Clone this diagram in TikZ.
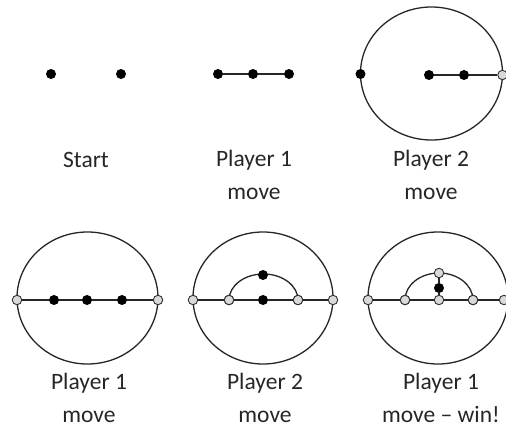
\documentclass[tikz,border=0pt]{standalone}
\usepackage{fontspec}
\setmainfont{Carlito}
\begin{document}
\begin{tikzpicture}[x=1pt,y=-1pt,
  bdot/.style={circle,fill=black,inner sep=0pt,minimum size=10pt},
  wdot/.style={circle,draw=black!80,line width=0.9pt,fill=black!15,inner sep=0pt,minimum size=9.5pt},
  ring/.style={draw=black!85,line width=1.3pt},
  edge/.style={draw=black!85,line width=1.6pt},
  lbl/.style={font=\fontsize{23.5}{33}\selectfont,align=center,text=black!85,inner sep=0pt}]
\useasboundingbox (0,0) rectangle (506,427);
% Start
\node[bdot] (s1) at (51,74) {};
\node[bdot] (s2) at (121,74) {};
\node[lbl] (ls) at (86,160) {Start};
% Player 1 move (top)
\node[bdot] (a1) at (218,74) {};
\node[bdot] (a2) at (253,74) {};
\node[bdot] (a3) at (289,74) {};
\draw[edge] (a1) -- (a2) -- (a3);
\node[lbl] (la) at (254,175) {Player 1\\move};
% Player 2 move (top)
\coordinate (bc) at (431.5,73.5);
\draw[ring] (bc) ellipse [x radius=71,y radius=66.5];
\node[bdot] (b0) at (360.5,74) {};
\node[bdot] (b1) at (429,75) {};
\node[bdot] (b2) at (464,75) {};
\node[wdot] (b3) at (502.5,75) {};
\draw[edge] (b1) -- (b2) -- (b3);
\node[lbl] (lb) at (431,175) {Player 2\\move};
% Bottom left
\draw[ring] (87.5,298) ellipse [x radius=70.5,y radius=66];
\node[wdot] (c0) at (17,300) {};
\node[bdot] (c1) at (54,300) {};
\node[bdot] (c2) at (87,300) {};
\node[bdot] (c3) at (122,300) {};
\node[wdot] (c4) at (158,300) {};
\draw[edge] (c0) -- (c1) -- (c2) -- (c3) -- (c4);
\node[lbl] (lc) at (89,398) {Player 1\\move};
% Bottom middle
\draw[ring] (263,298) ellipse [x radius=70,y radius=66];
\node[wdot] (d0) at (193,300) {};
\node[wdot] (d1) at (229,300) {};
\node[bdot] (d2) at (263,300) {};
\node[wdot] (d3) at (298,300) {};
\node[wdot] (d4) at (333,300) {};
\draw[ring] (d1) arc[start angle=180,end angle=360,x radius=34.5,y radius=26];
\node[wdot] at (d1) {};
\node[wdot] at (d3) {};
\node[bdot] (d5) at (263,275) {};
\draw[edge] (d0) -- (d1) -- (d2) -- (d3) -- (d4);
\node[lbl] (ld) at (265,398) {Player 2\\move};
% Bottom right
\draw[ring] (438,298) ellipse [x radius=70,y radius=66];
\node[wdot] (e0) at (368,300) {};
\node[wdot] (e1) at (405,300) {};
\node[wdot] (e2) at (439,300) {};
\node[wdot] (e3) at (473,300) {};
\node[wdot] (e4) at (504,300) {};
\draw[ring] (e1) arc[start angle=180,end angle=360,x radius=34,y radius=27];
\node[wdot] at (e1) {};
\node[wdot] at (e3) {};
\node[wdot] (e5) at (439,273) {};
\node[bdot] (e6) at (439,288) {};
\draw[edge] (e0) -- (e1) -- (e2) -- (e3) -- (e4);
\draw[edge] (e5) -- (e6) -- (e2);
\node[lbl] (le) at (441,398) {Player 1\\move -- win!};
\end{tikzpicture}
\end{document}
